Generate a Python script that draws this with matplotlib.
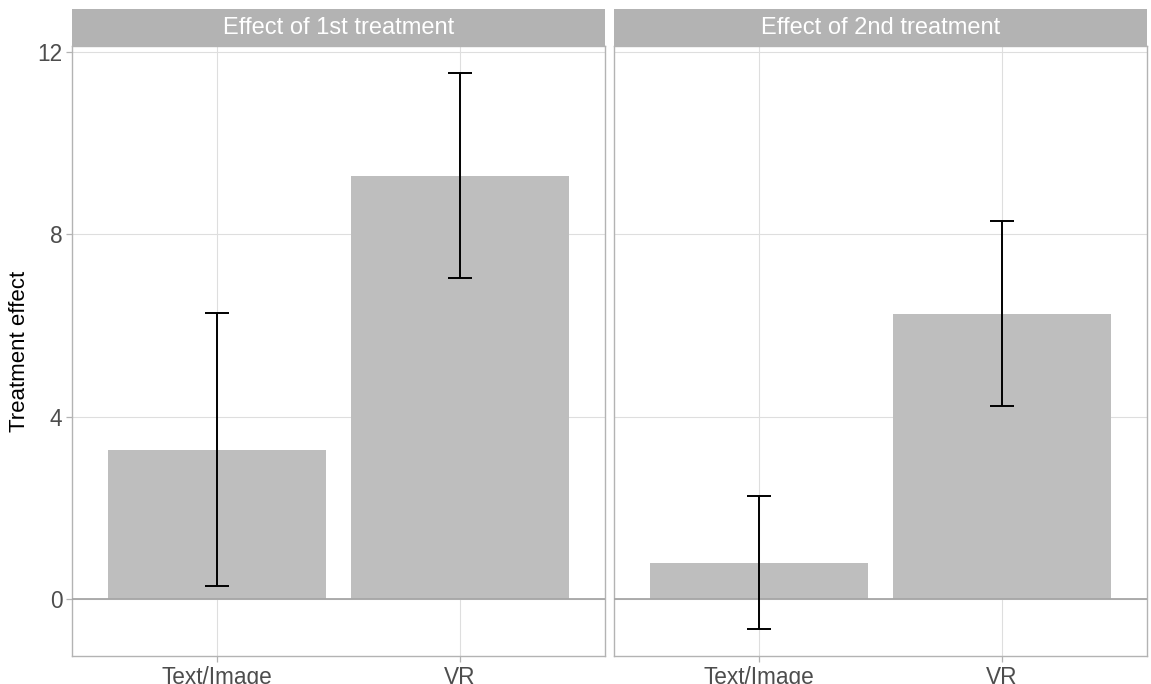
import matplotlib.pyplot as plt
import numpy as np

plt.rcParams['font.family'] = ['Liberation Sans', 'DejaVu Sans']

# data
categories = ['Text/Image', 'VR']
panels = ['Effect of 1st treatment', 'Effect of 2nd treatment']
effect = [[3.27, 9.28], [0.79, 6.25]]
lower = [[0.29, 7.04], [-0.66, 4.23]]
upper = [[6.27, 11.53], [2.26, 8.29]]
yticks = [0, 4, 8, 12]

W, H = 1151, 684
fig = plt.figure(figsize=(W / 100, H / 100), dpi=100)

bar_col = '#BEBEBE'
strip_col = '#B3B3B3'
grid_col = '#DEDEDE'
border_col = '#B3B3B3'

lefts = [72, 614]
pw = 533
top, bottom = 46, 656
strip_top = 9

x = np.arange(1, len(categories) + 1)
for i, (left, title) in enumerate(zip(lefts, panels)):
    ax = fig.add_axes([left / W, (H - bottom) / H, pw / W, (bottom - top) / H])
    ax.set_axisbelow(True)
    ax.bar(x, effect[i], width=0.9, color=bar_col, zorder=2)
    ax.axhline(0, color='#A6A6A6', lw=1.3, zorder=3)
    ax.errorbar(x, effect[i],
                yerr=[np.array(effect[i]) - np.array(lower[i]),
                      np.array(upper[i]) - np.array(effect[i])],
                fmt='none', ecolor='black', elinewidth=1.4, capsize=8.6,
                capthick=1.4, zorder=4)
    ax.set_xlim(0.4, 2.6)
    ax.set_ylim(-1.25, 12.13)
    ax.set_xticks(x)
    ax.set_xticklabels(categories)
    ax.set_yticks(yticks)
    ax.grid(True, color=grid_col, lw=0.8)
    for s in ax.spines.values():
        s.set_color(border_col)
        s.set_linewidth(1.0)
    ax.tick_params(axis='both', colors=border_col, length=4, width=0.9,
                   labelcolor='#4D4D4D', labelsize=16.3, pad=3)
    if i == 0:
        ax.set_ylabel('Treatment effect', fontsize=16, color='black')
        ax.yaxis.set_label_coords(-0.079, 0.5)
    else:
        ax.tick_params(axis='y', labelleft=False, length=0)

    # facet strip
    sax = fig.add_axes([left / W, (H - top) / H, pw / W, (top - strip_top) / H])
    sax.set_facecolor(strip_col)
    sax.set_xticks([])
    sax.set_yticks([])
    for s in sax.spines.values():
        s.set_visible(False)
    sax.text(0.5, 0.5, title, color='white', fontsize=17,
             ha='center', va='center', transform=sax.transAxes)

fig.savefig('out.png', dpi=100)
